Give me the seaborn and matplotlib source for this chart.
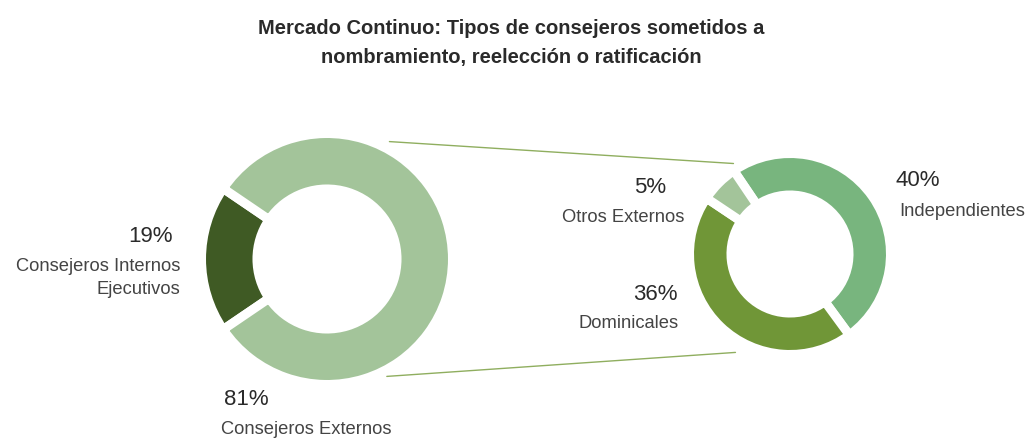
import matplotlib
matplotlib.use("Agg")
import matplotlib.pyplot as plt
import seaborn as sns
from matplotlib.patches import ConnectionPatch
import numpy as np

sns.set_theme(style="white")
plt.rcParams['font.family'] = ['Liberation Sans', 'DejaVu Sans']

title = "Mercado Continuo: Tipos de consejeros sometidos a\nnombramiento, reelección o ratificación"

main_labels = ["Consejeros Internos\nEjecutivos", "Consejeros Externos"]
main_values = [19, 81]
main_colors = ["#3f5a24", "#a3c49a"]

ext_labels = ["Independientes", "Dominicales", "Otros Externos"]
ext_values = [40, 36, 5]
ext_colors = ["#78b57e", "#709637", "#a3c49a"]

W, H = 1030, 439
fig = plt.figure(figsize=(W / 100, H / 100), dpi=100)

def px_axes(cx, cy, r):
    return fig.add_axes([(cx - r) / W, (H - cy - r) / H, 2 * r / W, 2 * r / H])

ax1 = px_axes(327, 260, 122)
ax2 = px_axes(790, 255, 97)

lw = 6.5  # white separator (points)
start1 = 180 - main_values[0] / sum(main_values) * 360 / 2
ax1.pie(main_values, colors=main_colors, startangle=start1, counterclock=True,
        radius=125.5 / 122, wedgeprops=dict(width=(125.5 - 70) / 122,
                                           edgecolor="white", linewidth=lw))
ax2.pie(ext_values, colors=ext_colors, startangle=124, counterclock=False,
        radius=100.5 / 97, wedgeprops=dict(width=(100.5 - 59) / 97,
                                          edgecolor="white", linewidth=lw))
for ax in (ax1, ax2):
    ax.set_xlim(-1, 1)
    ax.set_ylim(-1, 1)
    ax.set_aspect("equal")
    ax.axis("off")

def pol(r, deg):
    a = np.deg2rad(deg)
    return (r * np.cos(a), r * np.sin(a))

for (ra, aa, rb, ab) in [(1.09, 62, 1.10, 122), (1.08, -63, 1.16, -119)]:
    con = ConnectionPatch(xyA=pol(ra, aa), coordsA=ax1.transData,
                          xyB=pol(rb, ab), coordsB=ax2.transData,
                          color="#8fae5f", linewidth=1.0)
    fig.add_artist(con)

fig.text(511 / W, 1 - 43 / H, title, ha="center", va="center",
         fontsize=14.5, fontweight="bold", color="#2a2a2a", linespacing=1.62)

def t(x, y, s, ha, size, color="#2a2a2a", ls=1.25):
    fig.text(x / W, 1 - y / H, s, ha=ha, va="center", fontsize=size,
             color=color, linespacing=ls)

pct_size = 16
lab_size = 13.2
lab_color = "#444444"

t(173, 237, f"{main_values[0]}%", "right", pct_size)
t(180, 278, main_labels[0], "right", lab_size, lab_color, 1.4)
t(224, 400, f"{main_values[1]}%", "left", pct_size)
t(221, 430, main_labels[1], "left", lab_size, lab_color)

t(666, 188, f"{ext_values[2]}%", "right", pct_size)
t(684, 217, ext_labels[2], "right", lab_size, lab_color)
t(678, 294, f"{ext_values[1]}%", "right", pct_size)
t(679, 324, ext_labels[1], "right", lab_size, lab_color)
t(896, 181, f"{ext_values[0]}%", "left", pct_size)
t(899, 211, ext_labels[0], "left", lab_size, lab_color)

fig.savefig("out.png", dpi=100, facecolor="white")
